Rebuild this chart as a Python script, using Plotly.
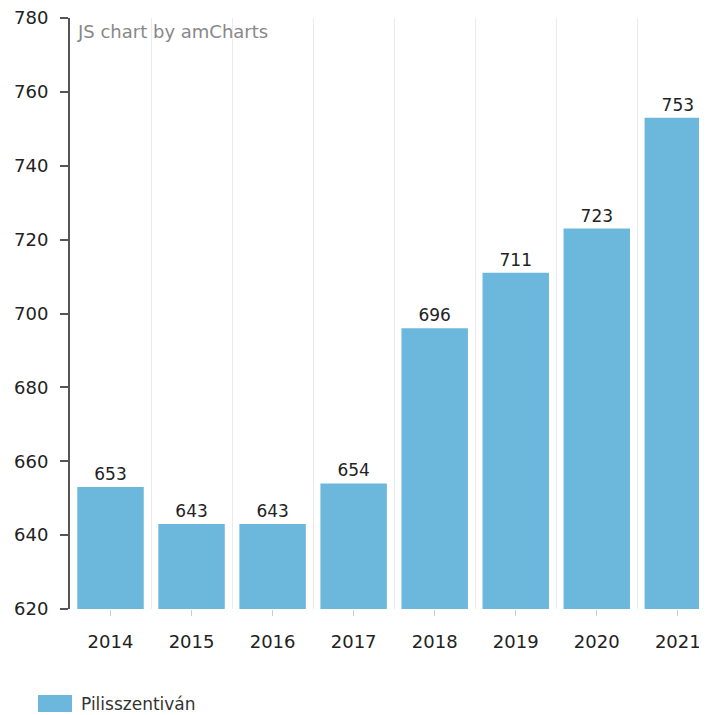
import plotly.graph_objects as go

years = ["2014", "2015", "2016", "2017", "2018", "2019", "2020", "2021"]
values = [653, 643, 643, 654, 696, 711, 723, 753]
series_name = "Pilisszentiván"
y_ticks = [620, 640, 660, 680, 700, 720, 740, 760, 780]

xpos = list(range(len(years)))
font = "DejaVu Sans, Verdana, sans-serif"
bar_color = "#6cb8dc"

# page body has an 8px margin, so the figure is 8px smaller in each direction
W, H = 699, 707
ML, MT, MB = 62, 10, 106
PW, PH = W - ML, H - MT - MB

fig = go.Figure()
fig.add_trace(go.Bar(
    x=xpos, y=values, name=series_name,
    marker=dict(color=bar_color, line=dict(width=0)),
    text=[str(v) for v in values], textposition="outside",
    textfont=dict(family=font, size=17, color="#222"),
    cliponaxis=False, showlegend=False,
))

fig.update_layout(
    width=W, height=H,
    margin=dict(l=ML, r=0, t=MT, b=MB, autoexpand=False),
    paper_bgcolor="white", plot_bgcolor="white",
    bargap=0.18,
    font=dict(family=font, size=18, color="#222"),
    showlegend=False,
    xaxis=dict(
        range=[-0.5, 7.36], tickvals=xpos, ticktext=years,
        showgrid=False, zeroline=False, showline=False, automargin=False,
        ticks="outside", ticklen=6, tickcolor="#cccccc", tickwidth=1,
        ticklabelstandoff=10, ticklabeloverflow="allow",
        minor=dict(tick0=0.5, dtick=1, showgrid=True, gridcolor="#ebebeb", gridwidth=1),
    ),
    yaxis=dict(
        range=[620, 780], tickvals=y_ticks, automargin=False,
        showgrid=False, zeroline=False,
        showline=True, linecolor="#555555", linewidth=2,
        ticks="outside", ticklen=8, tickcolor="#555555", tickwidth=2,
        ticklabelstandoff=8, ticklabeloverflow="allow",
    ),
    shapes=[dict(type="rect", xref="paper", yref="paper",
                 x0=-32 / PW, x1=2 / PW, y0=-103 / PH, y1=-86 / PH,
                 fillcolor=bar_color, line=dict(width=0))],
    annotations=[
        dict(text="JS chart by amCharts", xref="paper", yref="paper",
             x=5 / PW, y=1 - 1 / PH, xanchor="left", yanchor="top", showarrow=False,
             font=dict(family=font, size=18, color="#888")),
        dict(text=series_name, xref="paper", yref="paper",
             x=9 / PW, y=-94.5 / PH, xanchor="left", yanchor="middle", showarrow=False,
             font=dict(family=font, size=17, color="#333")),
    ],
)

fig.write_html("out.html")
